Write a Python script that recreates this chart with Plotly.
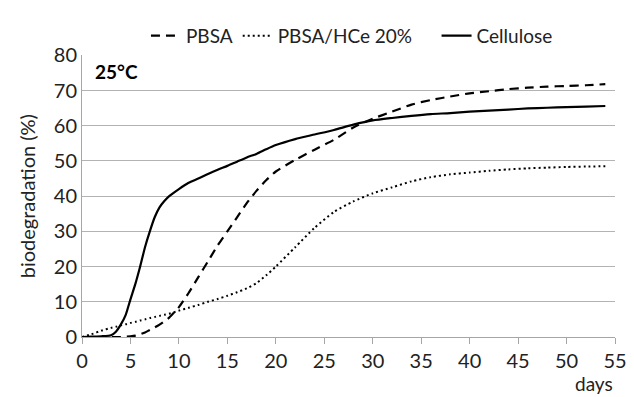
import plotly.graph_objects as go

days = [0, 1, 2, 3, 3.5, 4, 4.5, 5, 5.5, 6, 6.5, 7, 7.5, 8, 8.5, 9,
        10, 11, 12, 13, 14, 15, 16, 17, 18, 19, 20,
        22, 24, 26, 28, 30, 32, 34, 36, 38, 40, 42, 44, 46, 48, 50, 52, 54]

pbsa = [0, 0, 0, 0, 0, 0, 0.1, 0.2, 0.4, 0.8, 1.3, 2, 2.7, 3.5, 4.5, 5.5,
        8.5, 12.5, 17, 21.5, 26, 30, 34, 38, 41.5, 44.5, 47,
        50.3, 53.2, 56, 59.5, 62, 64, 66, 67.3, 68.3, 69.2, 69.8, 70.4, 70.8, 71.1, 71.3, 71.5, 71.8]

pbsa_hce = [0, 0.8, 1.8, 2.6, 2.9, 3.3, 3.6, 4, 4.3, 4.7, 5, 5.4, 5.7, 6, 6.3, 6.6,
            7.5, 8.3, 9.1, 10, 10.8, 11.7, 12.7, 13.8, 15.3, 17.5, 20,
            25.5, 31, 35.5, 38.5, 40.8, 42.5, 44.2, 45.4, 46.2, 46.7, 47.2, 47.6, 47.9, 48.1, 48.3, 48.4, 48.5]

cellulose = [0, 0.1, 0.2, 0.5, 1.5, 3.5, 6.2, 10.7, 15, 20, 25.5, 30, 34, 36.8, 38.6, 40,
             42, 43.8, 45, 46.3, 47.5, 48.6, 49.8, 51, 52, 53.3, 54.5,
             56.2, 57.5, 58.8, 60.3, 61.5, 62.2, 62.8, 63.3, 63.6, 64, 64.3, 64.6, 64.9, 65.1, 65.3, 65.4, 65.6]

x_ticks = list(range(0, 56, 5))
y_ticks = list(range(0, 81, 10))

FONT = "Lato"
FS = 20
PAD = "\u00a0" * 4

W, H = 634, 397
M_L, M_R, M_T, M_B = 82, 19, 0, 60
PLOT_TOP_PX = 44      # top edge of the plotting area
LEGEND_TOP_PX = 4     # top edge of the legend box
paper_h = H - M_T - M_B
y_dom_top = (H - M_B - PLOT_TOP_PX) / paper_h
legend_y = (H - M_B - LEGEND_TOP_PX) / paper_h

fig = go.Figure()
fig.add_trace(go.Scatter(x=days, y=pbsa, name="PBSA", mode="lines",
                         line=dict(color="black", width=2.2, dash="9px,6px", shape="spline", smoothing=0.6)))
fig.add_trace(go.Scatter(x=days, y=pbsa_hce, name="PBSA/HCe 20%" + PAD, mode="lines",
                         line=dict(color="black", width=2, dash="2px,3px", shape="spline", smoothing=0.6)))
fig.add_trace(go.Scatter(x=days, y=cellulose, name="Cellulose", mode="lines",
                         line=dict(color="black", width=2.2, shape="spline", smoothing=0.6)))

fig.update_layout(
    width=W, height=H,
    margin=dict(l=M_L, r=M_R, t=M_T, b=M_B),
    paper_bgcolor="white", plot_bgcolor="white",
    font=dict(family=FONT, size=FS, color="#222"),
    showlegend=True,
    legend=dict(orientation="h", x=0.12, xanchor="left", y=legend_y, yanchor="top",
                font=dict(size=FS - 1), bgcolor="rgba(0,0,0,0)", itemwidth=30),
    xaxis=dict(range=[0, 55], tickvals=x_ticks, showgrid=False, showline=True,
               linecolor="#a6a6a6", linewidth=1, ticks="outside", ticklen=6,
               tickcolor="#a6a6a6", zeroline=False, tickfont=dict(size=FS)),
    yaxis=dict(range=[0, 80], tickvals=y_ticks, showgrid=True, gridcolor="#b3b3b3",
               domain=[0, y_dom_top],
               gridwidth=1, showline=True, linecolor="#a6a6a6", linewidth=1,
               zeroline=False, ticks="", tickfont=dict(size=FS),
               title=dict(text="biodegradation (%)", font=dict(size=FS), standoff=12)),
    annotations=[
        dict(text="<b>25°C</b>", x=0.02, y=0.99, xref="paper", yref="y domain",
             xanchor="left", yanchor="top", showarrow=False, font=dict(size=FS - 1, color="black")),
        dict(text="days", x=1.0, y=0, xref="paper", yref="paper", xanchor="right",
             yanchor="top", yshift=-33, showarrow=False, font=dict(size=FS - 1)),
    ],
)

fig.write_html("out.html")
